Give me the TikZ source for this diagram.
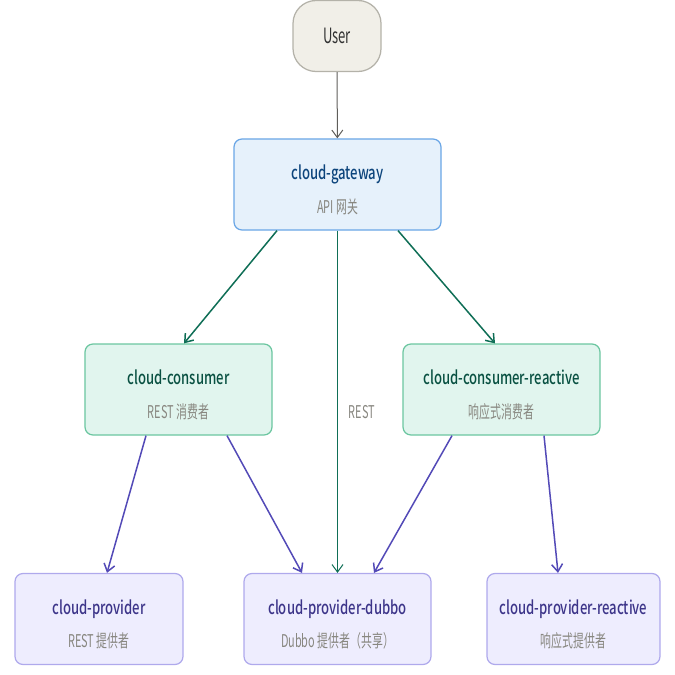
\documentclass[tikz,border=0pt]{standalone}
\usepackage{fontspec}
\setmainfont[FakeStretch=0.71,BoldFont={Noto Sans CJK SC Medium}]{Noto Sans CJK SC}
\newfontfamily\subfont[FakeStretch=0.62]{Noto Sans CJK SC}
\usepackage{tikz}
\usetikzlibrary{positioning}
\usetikzlibrary{arrows.meta}

\definecolor{userfill}{HTML}{F1EFE8}
\definecolor{userdraw}{HTML}{B4B2A9}
\definecolor{gwfill}{HTML}{E6F1FB}
\definecolor{gwdraw}{HTML}{6AA6E6}
\definecolor{gwtext}{HTML}{0C447C}
\definecolor{cnfill}{HTML}{E1F5EE}
\definecolor{cndraw}{HTML}{6BC6A0}
\definecolor{cntext}{HTML}{085041}
\definecolor{pvfill}{HTML}{EEEDFE}
\definecolor{pvdraw}{HTML}{AFA9EC}
\definecolor{pvtext}{HTML}{3C3489}
\definecolor{subgrey}{HTML}{888780}
\definecolor{greenline}{HTML}{0F6E56}
\definecolor{purpline}{HTML}{534AB7}
\definecolor{greyline}{HTML}{5F5E5A}

\newcommand{\ttl}[1]{{\fontsize{10.5}{12}\selectfont\bfseries\rule{0pt}{14.5pt}#1}}
\newcommand{\subt}[1]{{\subfont\fontsize{10}{12}\selectfont\color{subgrey}#1}}

\begin{document}
\begin{tikzpicture}[x=0.2mm,y=-0.2mm,
  >={Straight Barb[length=1.5mm,width=2.2mm]},
  box/.style={rectangle,rounded corners=1.6mm,draw,line width=0.25mm,
    align=center,inner sep=0pt,minimum height=18.2mm},
  gw/.style={box,fill=gwfill,draw=gwdraw,text=gwtext},
  cons/.style={box,fill=cnfill,draw=cndraw,text=cntext},
  prov/.style={box,fill=pvfill,draw=pvdraw,text=pvtext},
  green/.style={->,draw=greenline,line width=0.3mm},
  purp/.style={->,draw=purpline,line width=0.3mm}]
\useasboundingbox (0,0) rectangle (675,675);

\node (user) at (337,36) [rectangle,rounded corners=4.6mm,draw=userdraw,
  fill=userfill,line width=0.25mm,minimum width=17.6mm,minimum height=14.2mm,
  text=black!80]{\subfont\fontsize{12}{14}\selectfont User};
\node (gateway) at (337.5,184.5) [gw,minimum width=41.4mm]
  {\ttl{cloud-gateway}\\[7pt]\subt{API 网关}};

\node (consumer) at (178.5,389.5) [cons,minimum width=37.4mm]
  {\ttl{cloud-consumer}\\[7pt]\subt{REST 消费者}};
\node (reactive) at (501.5,389.5) [cons,minimum width=39.4mm]
  {\ttl{cloud-consumer-reactive}\\[7pt]\subt{响应式消费者}};

\node (provider) at (99,619) [prov,minimum width=33.6mm]
  {\ttl{cloud-provider}\\[7pt]\subt{REST 提供者}};
\node (dubbo) at (337.5,619) [prov,minimum width=37.4mm]
  {\ttl{cloud-provider-dubbo}\\[7pt]\subt{Dubbo 提供者（共享）}};
\node (preactive) at (573.5,619) [prov,minimum width=34.6mm]
  {\ttl{cloud-provider-reactive}\\[7pt]\subt{响应式提供者}};

\draw [->,greyline,line width=0.2mm] (user)--(gateway);

\draw [green]([xshift=-12.1mm]gateway.south)--([xshift=1.1mm]consumer.north);
\draw [green]([xshift=12.1mm]gateway.south)--([xshift=-1.3mm]reactive.north);
\draw [->,greenline,line width=0.2mm](gateway)--(dubbo)
  node(rest)[pos=0.53,right=1mm]{\subt{REST}};

\draw [purp]([xshift=-6.5mm]consumer.south)--([xshift=1.6mm]provider.north);
\draw [purp]([xshift=9.7mm]consumer.south)--([xshift=-7.1mm]dubbo.north);
\draw [purp]([xshift=-9.9mm]reactive.south)--([xshift=7.3mm]dubbo.north);
\draw [purp]([xshift=8.5mm]reactive.south)--([xshift=-3.1mm]preactive.north);

\end{tikzpicture}
\end{document}
